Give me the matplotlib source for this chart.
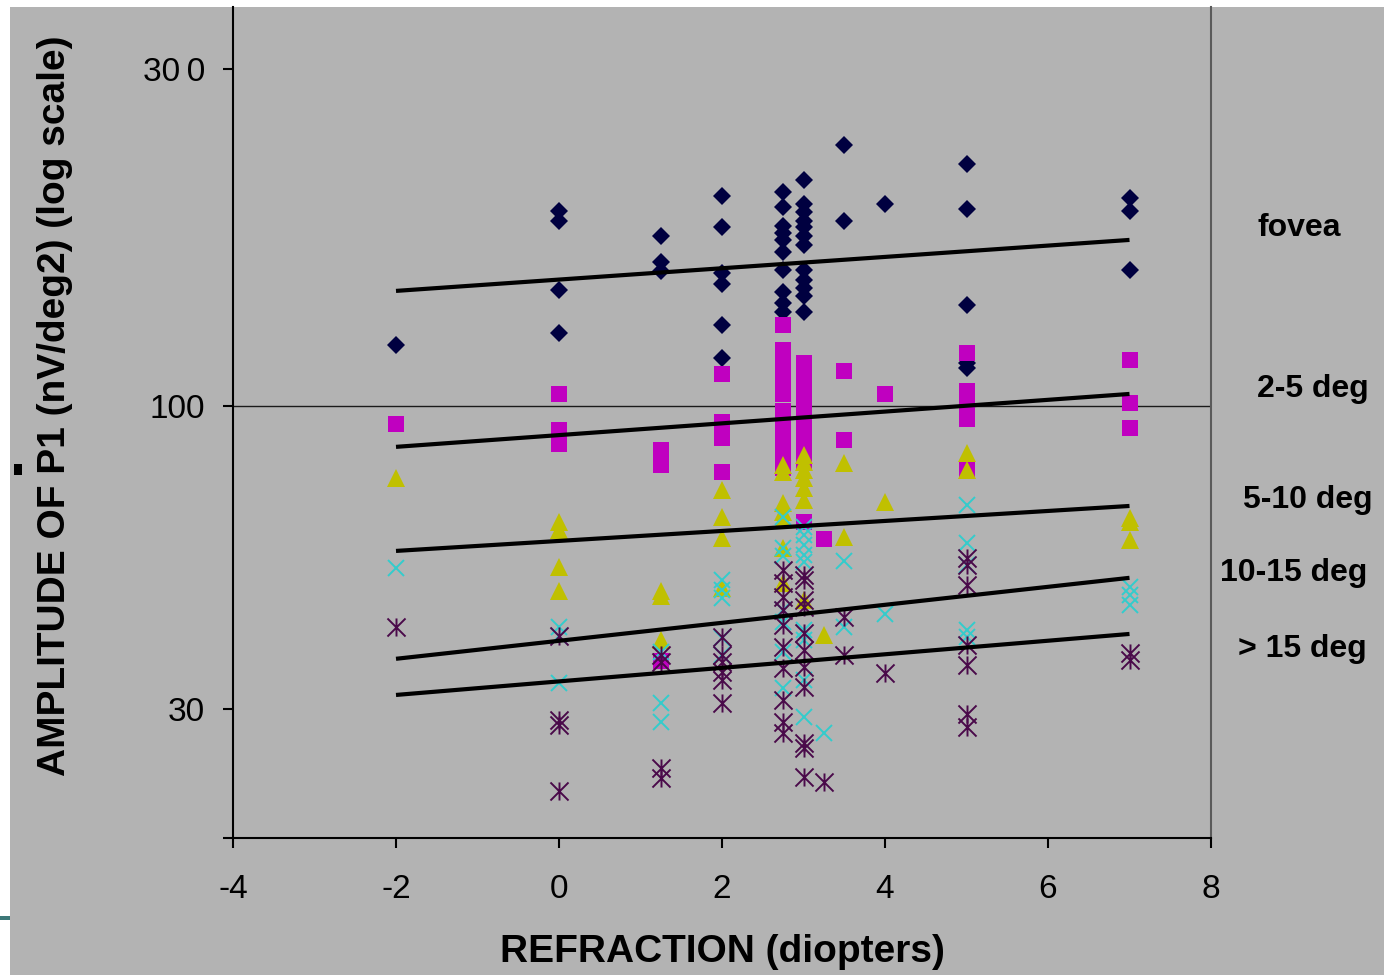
import numpy as np
import matplotlib.pyplot as plt
from matplotlib.path import Path
from matplotlib.patches import Rectangle

plt.rcParams["font.family"] = ["Liberation Sans", "DejaVu Sans"]
plt.rcParams["axes.unicode_minus"] = False

########## DATA ##########
x_ticks = [-4, -2, 0, 2, 4, 6, 8]
y_ticks = [30, 100, 300]
y_tick_labels = ["30", "100", "30\u20090"]
y_bottom, y_top = 17.95, 367

# (refraction, [amplitudes]) per eccentricity ring
fovea = [
    (-2, [122]),
    (0, [189, 183, 146, 127]),
    (1.25, [174, 160, 155]),
    (2, [198, 179, 154, 149, 130, 117]),
    (2.75, [201, 191, 180, 176, 172, 165, 156, 145, 140, 136]),
    (3, [209, 193, 188, 183, 179, 174, 169, 156, 151, 147, 143, 136]),
    (3.5, [234, 183]),
    (4, [193]),
    (5, [220, 190, 139, 115, 113]),
    (7, [197, 189, 156]),
]
deg_2_5 = [
    (-2, [93]),
    (0, [104, 91, 88, 86]),
    (1.25, [84, 79, 36.3]),
    (2, [111, 94, 88, 77]),
    (2.75, [130, 120, 116, 112, 107, 104, 98, 94.6, 90, 86, 81, 78]),
    (3, [115, 111, 106, 102, 97, 93, 88, 84, 80, 63]),
    (3.25, [59]),
    (3.5, [112, 87.5]),
    (4, [104]),
    (5, [119, 105, 101, 95, 77.5]),
    (7, [116, 101, 91.6]),
]
deg_5_10 = [
    (-2, [75]),
    (0, [63, 61, 52.7, 47.9]),
    (1.25, [48, 47, 39.4]),
    (2, [71.6, 64.3, 59.2, 48.5]),
    (2.75, [79, 76.9, 68, 65.6, 63.6, 56.9, 49.5]),
    (3, [82.3, 80, 77.5, 75, 72.2, 68.8, 46.2]),
    (3.25, [40.2]),
    (3.5, [79.7, 59.4]),
    (4, [68.3]),
    (5, [82.9, 77.5]),
    (7, [64, 63, 58.7]),
]
deg_10_15 = [
    (-2, [52.5]),
    (0, [41.5, 40.1, 33.2]),
    (1.25, [37.6, 30.7, 28.5]),
    (2, [50.1, 48.1, 46.6, 39.7, 37.2]),
    (2.75, [64.3, 56.9, 55.1, 44.4, 42.4, 37.6, 32.6]),
    (3, [61.8, 59.9, 57.5, 55.3, 53.8, 41, 39.4, 33.6, 29.0]),
    (3.25, [27.2]),
    (3.5, [54, 41.5]),
    (4, [43.7]),
    (5, [67.5, 58, 53.1, 41, 39.9]),
    (7, [48.7, 47.2, 45.3]),
]
deg_15_up = [
    (-2, [41.5]),
    (0, [40.1, 28.7, 28.1, 21.6]),
    (1.25, [37.1, 36.1, 23.7, 22.8]),
    (2, [39.9, 37.1, 36.1, 34.7, 33.6, 30.7]),
    (2.75, [52.1, 49.5, 46.8, 44.4, 41.8, 38.3, 35.3, 31.1, 28.5, 27.2]),
    (3, [51.1, 50.1, 46.2, 45.0, 40.5, 37.9, 35.4, 32.7, 26.2, 25.7, 22.9]),
    (3.25, [22.4]),
    (3.5, [43.2, 37.1]),
    (4, [34.6]),
    (5, [54.6, 53.1, 49.1, 38.7, 35.7, 29.4, 27.9]),
    (7, [37.5, 36.4]),
]

# trend lines, end points at refraction -2 and 7
trend_x = [-2, 7]
trend_fovea = [145.5, 171.8]
trend_2_5 = [85.0, 104.0]
trend_5_10 = [56.2, 67.2]
trend_10_15 = [36.6, 50.5]
trend_15_up = [31.7, 40.4]

labels = ["fovea", "2-5 deg", "5-10 deg", "10-15 deg", "> 15 deg"]


def expand(groups):
    xs, ys = [], []
    for x, vals in groups:
        xs += [x] * len(vals)
        ys += vals
    return xs, ys


########## START - AXIS SCALE ##########
# log axis, but the decade above 100 is drawn a bit taller than the one below
UPPER = 1.22


def fwd(y):
    u = np.log10(np.clip(np.asarray(y, float), 1e-9, None)) - 2
    return np.where(u <= 0, u, u * UPPER)


def inv(v):
    v = np.asarray(v, float)
    return 10 ** (2 + np.where(v <= 0, v, v / UPPER))
########## END - AXIS SCALE ##########

asterisk = Path(
    [(0, -1), (0, 1), (-1, -1), (1, 1), (-1, 1), (1, -1)],
    [Path.MOVETO, Path.LINETO, Path.MOVETO, Path.LINETO, Path.MOVETO, Path.LINETO],
)

bg = "#b3b3b3"
fig = plt.figure(figsize=(13.84, 9.75), dpi=100)
fig.patch.set_facecolor("white")
fig.add_artist(Rectangle((10 / 1384, 0), 1374 / 1384, 968 / 975,
                         transform=fig.transFigure, facecolor=bg, edgecolor="none", zorder=0))
fig.add_artist(Rectangle((0, 55 / 975), 10 / 1384, 4 / 975,
                         transform=fig.transFigure, facecolor="#3d7878", edgecolor="none"))
fig.add_artist(Rectangle((14 / 1384, 500 / 975), 8 / 1384, 11 / 975,
                         transform=fig.transFigure, facecolor="black", edgecolor="none"))

ax = fig.add_axes([233 / 1384, 137 / 975, 978 / 1384, 831 / 975])
ax.set_facecolor(bg)
ax.set_yscale("function", functions=(fwd, inv))

series = [
    (fovea, dict(marker="D", ms=9.5, color="#000040", mew=0)),
    (deg_2_5, dict(marker="s", ms=11, color="#c000c0", mew=0)),
    (deg_5_10, dict(marker="^", ms=13, color="#c0c000", mew=0)),
    (deg_10_15, dict(marker="x", ms=11, color="#33cccc", mew=1.4)),
    (deg_15_up, dict(marker=asterisk, ms=13, color="#4a0a4a", mew=1.4)),
]
for groups, style in series:
    xs, ys = expand(groups)
    ax.plot(xs, ys, linestyle="none", **style)

for ends in [trend_fovea, trend_2_5, trend_5_10, trend_10_15, trend_15_up]:
    ax.plot(trend_x, ends, color="black", linewidth=3, solid_capstyle="butt", zorder=5)

ax.axhline(100, color="#1a1a1a", linewidth=1.0, zorder=1)

ax.set_xlim(x_ticks[0], x_ticks[-1])
ax.set_ylim(y_bottom, y_top)
ax.set_xticks(x_ticks)
ax.set_yticks([y_bottom] + y_ticks)
ax.set_yticklabels([""] + y_tick_labels)
ax.minorticks_off()
ax.tick_params(axis="both", direction="out", length=7, width=1.5, color="black",
               labelsize=24, labelcolor="black")
ax.tick_params(axis="x", pad=19)
ax.tick_params(axis="y", pad=13)

ax.spines["top"].set_visible(False)
ax.spines["left"].set_linewidth(1.5)
ax.spines["bottom"].set_linewidth(1.5)
ax.spines["right"].set_color("#5a5a5a")
ax.spines["right"].set_linewidth(1.5)

ax.set_xlabel("REFRACTION (diopters)", fontsize=28, fontweight="bold", va="center")
ax.xaxis.set_label_coords(0.5, (838 - 952) / 831)
ax.set_ylabel("AMPLITUDE OF P1 (nV/deg2) (log scale)", fontsize=28, fontweight="bold",
              va="center")
ax.yaxis.set_label_coords((55 - 233) / 978, (838 - 406) / 831)

label_pos = [(1257, 228), (1257, 389), (1243, 500), (1220, 573), (1238, 649)]
for text, (px, py) in zip(labels, label_pos):
    fig.text(px / 1384, 1 - py / 975, text, fontsize=23, fontweight="bold",
             ha="left", va="center")

plt.savefig("out.png", dpi=100)
plt.close(fig)
